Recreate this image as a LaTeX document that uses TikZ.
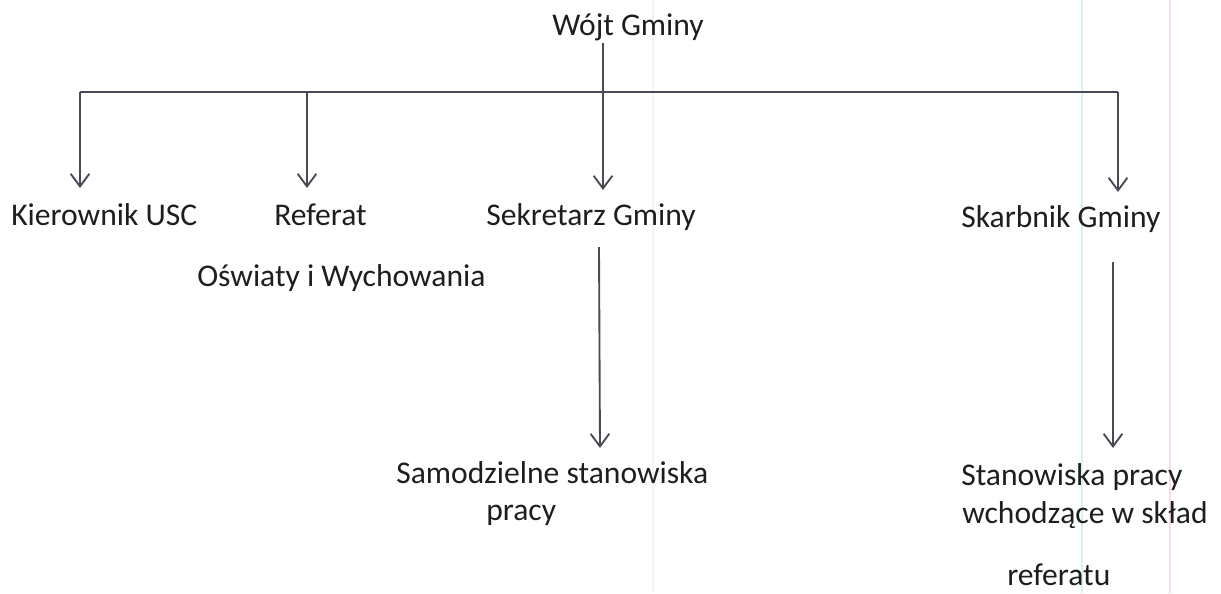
\documentclass[tikz,border=0pt]{standalone}
\usepackage{fontspec}
\setmainfont{Carlito}
\usetikzlibrary{arrows.meta}
\definecolor{inkline}{HTML}{4A4A55}
\definecolor{inktext}{HTML}{1E1E1E}
\tikzset{
  lbl/.style={inner sep=0pt, anchor=base west, text=inktext, font=\fontsize{23.7pt}{28pt}\selectfont},
  busline/.style={draw=inkline, line width=1.4pt},
  arr/.style={draw=inkline, line width=1.4pt, -{Straight Barb[length=9.5pt,width=14pt,line width=1.4pt]}},
  artifact/.style={line width=0.8pt}
}
\begin{document}
\begin{tikzpicture}[x=0.75pt,y=-0.75pt]
\useasboundingbox (0,0) rectangle (1221,593);
% faint scan lines
\draw[artifact, draw={rgb,255:red,236;green,246;blue,248}] (653,0) -- (653,593);
\draw[artifact, draw={rgb,255:red,215;green,242;blue,242}] (1082,0) -- (1082,593);
\draw[artifact, draw={rgb,255:red,244;green,222;blue,240}] (1170,0) -- (1170,593);
% texts
\node[lbl] (wojt) at (552,35) {Wójt Gminy};
\node[lbl] (kier) at (11,225) {Kierownik USC};
\node[lbl] (ref) at (274,225) {Referat};
\node[lbl] (osw) at (197,286) {Oświaty i Wychowania};
\node[lbl] (sek) at (486,225) {Sekretarz Gminy};
\node[lbl] (skarb) at (961,227) {Skarbnik Gminy};
\node[lbl] (samo) at (396,483) {Samodzielne stanowiska};
\node[lbl] (samo2) at (486,520) {pracy};
\node[lbl] (stan) at (961,485) {Stanowiska pracy};
\node[lbl] (stan2) at (962,523) {wchodzące w skład};
\node[lbl] (stan3) at (1007,585) {referatu};
% coordinates
\coordinate (w0) at (603,43);
\coordinate (b1) at (80,92);
\coordinate (b4) at (1118,92);
\coordinate (b2) at (307,92);
\coordinate (t1) at (80,188);
\coordinate (t2) at (307,188);
\coordinate (t3) at (603,190);
\coordinate (t4) at (1118,192);
\coordinate (s0) at (599,247);
\coordinate (s1) at (600,448);
\coordinate (k0) at (1113,262);
\coordinate (k1) at (1113,448);
% connectors
\draw[busline] (b1) -- (b4);
\draw[arr] (w0) -- (t3);
\draw[arr] (b1) -- (t1);
\draw[arr] (b2) -- (t2);
\draw[arr] (b4) -- (t4);
\draw[arr] (s0) -- (s1);
\draw[arr] (k0) -- (k1);
\end{tikzpicture}
\end{document}
